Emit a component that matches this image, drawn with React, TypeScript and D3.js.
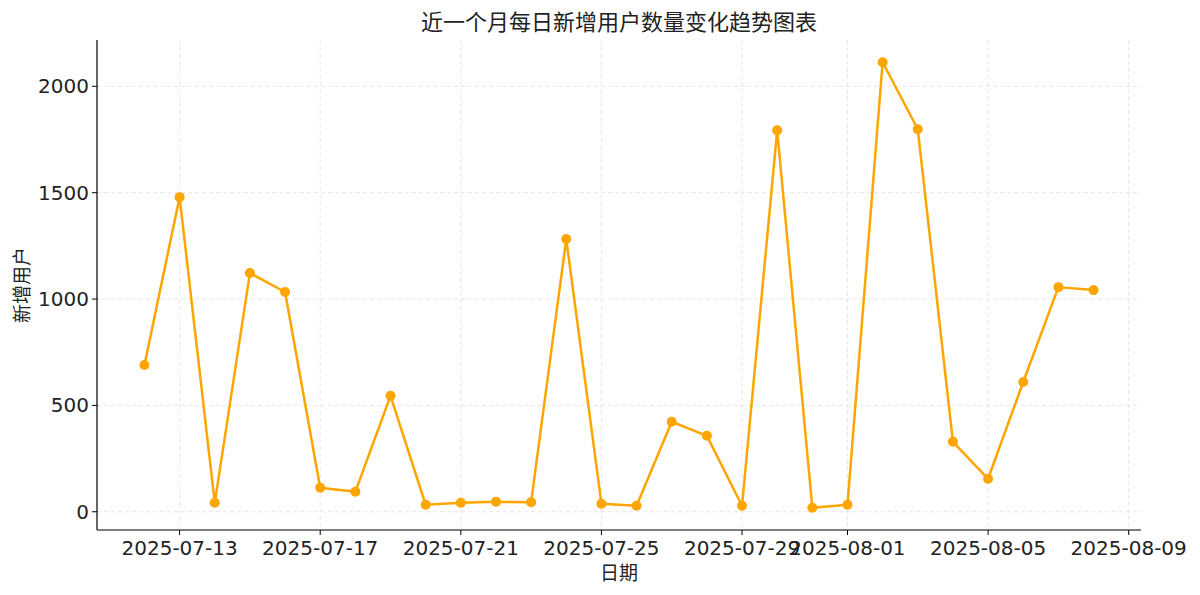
import React from "react";
import * as d3 from "d3";

const dates = [
  "2025-07-12","2025-07-13","2025-07-14","2025-07-15","2025-07-16","2025-07-17","2025-07-18",
  "2025-07-19","2025-07-20","2025-07-21","2025-07-22","2025-07-23","2025-07-24","2025-07-25",
  "2025-07-26","2025-07-27","2025-07-28","2025-07-29","2025-07-30","2025-07-31","2025-08-01",
  "2025-08-02","2025-08-03","2025-08-04","2025-08-05","2025-08-06","2025-08-07","2025-08-08",
];
const values = [
  690, 1479, 42, 1122, 1033, 113, 94,
  545, 33, 42, 47, 45, 1282, 38,
  28, 423, 357, 28, 1793, 19, 33,
  2113, 1798, 329, 155, 610, 1056, 1042,
];
const xTickLabels = [
  "2025-07-13","2025-07-17","2025-07-21","2025-07-25","2025-07-29","2025-08-01","2025-08-05","2025-08-09",
];
const yTicks = [0, 500, 1000, 1500, 2000];
const titleText = "近一个月每日新增用户数量变化趋势图表";
const xLabel = "日期";
const yLabel = "新增用户";

const W = 1200, H = 595;
const L = 97, R = 1141, T = 40, B = 530;
const FONT = "'DejaVu Sans', 'Noto Sans CJK SC', sans-serif";

export default function App() {
  const parse = d3.utcParse("%Y-%m-%d");
  const pts = dates.map((d, i) => ({ x: parse(d) as Date, y: values[i] }));
  const xMin = +pts[0].x, xMax = +pts[pts.length - 1].x;
  const xPad = (xMax - xMin) * 0.05;
  const x = d3.scaleUtc().domain([new Date(xMin - xPad), new Date(xMax + xPad)]).range([L, R]);
  const yMinV = d3.min(values)!, yMaxV = d3.max(values)!;
  const yPad = (yMaxV - yMinV) * 0.05;
  const y = d3.scaleLinear().domain([yMinV - yPad, yMaxV + yPad]).range([B, T]);
  const line = d3.line<{ x: Date; y: number }>().x(d => x(d.x)).y(d => y(d.y));
  const xt = xTickLabels.map(s => ({ s, v: x(parse(s) as Date) }));

  return (
    <svg width={W} height={H} style={{ position: "absolute", left: 0, top: 0, background: "#fff" }}>
      <rect width={W} height={H} fill="#fff" />
      {xt.map(t => (
        <line key={"gx" + t.s} x1={t.v} x2={t.v} y1={T} y2={B} stroke="#e0e0e0" strokeWidth={0.8} strokeDasharray="4,3" />
      ))}
      {yTicks.map(v => (
        <line key={"gy" + v} x1={L} x2={R} y1={y(v)} y2={y(v)} stroke="#e0e0e0" strokeWidth={0.8} strokeDasharray="4,3" />
      ))}
      <path d={line(pts) || ""} fill="none" stroke="#FFA500" strokeWidth={2.5} strokeLinejoin="round" />
      {pts.map((p, i) => (
        <circle key={i} cx={x(p.x)} cy={y(p.y)} r={5} fill="#FFA500" />
      ))}
      <line x1={L} x2={L} y1={T} y2={B} stroke="#000" strokeWidth={1.2} />
      <line x1={L} x2={R} y1={B} y2={B} stroke="#000" strokeWidth={1.2} />
      {xt.map(t => (
        <g key={"xt" + t.s}>
          <line x1={t.v} x2={t.v} y1={B} y2={B + 5} stroke="#000" strokeWidth={1} />
          <text x={t.v} y={B + 25} textAnchor="middle" fontSize={20} fontFamily={FONT} fill="#222">{t.s}</text>
        </g>
      ))}
      {yTicks.map(v => (
        <g key={"yt" + v}>
          <line x1={L - 5} x2={L} y1={y(v)} y2={y(v)} stroke="#000" strokeWidth={1} />
          <text x={L - 8} y={y(v) + 7} textAnchor="end" fontSize={20} fontFamily={FONT} fill="#222">{v}</text>
        </g>
      ))}
      <text x={(L + R) / 2} y={30} textAnchor="middle" fontSize={22} fontFamily={FONT} fill="#222">{titleText}</text>
      <text x={(L + R) / 2} y={580} textAnchor="middle" fontSize={19} fontFamily={FONT} fill="#222">{xLabel}</text>
      <text transform={`translate(29, ${(T + B) / 2}) rotate(-90)`} textAnchor="middle" fontSize={19} fontFamily={FONT} fill="#222">{yLabel}</text>
    </svg>
  );
}
